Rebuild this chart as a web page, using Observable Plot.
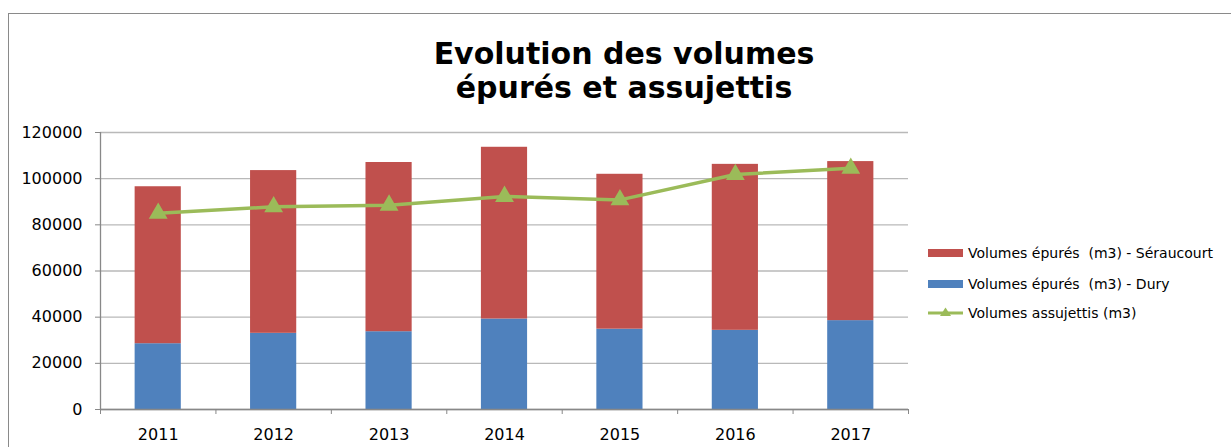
<!DOCTYPE html>
<html>
<head>
<meta charset="utf-8">
<script src="https://cdn.jsdelivr.net/npm/d3@7"></script>
<script src="https://cdn.jsdelivr.net/npm/@observablehq/plot@0.6"></script>
<style>
html, body { margin: 0; padding: 0; background: #fff; overflow: hidden; }
#wrap { position: relative; width: 1231px; height: 447px; font-family: "DejaVu Sans", sans-serif; color: #000; }
#frame { position: absolute; left: 8px; top: 13px; width: 1400px; height: 700px; border-left: 1.5px solid #8a8a8a; border-top: 1.5px solid #8a8a8a; }
#chart { position: absolute; left: 0; top: 0; }
#title { position: absolute; left: 324px; width: 600px; top: 37px; text-align: center; font-weight: bold; font-size: 30px; line-height: 34px; }
.leg { position: absolute; left: 928px; height: 20px; display: flex; align-items: center; font-size: 14px; white-space: pre; }
.sw { width: 35px; height: 8px; margin-right: 5px; }
</style>
</head>
<body>
<div id="wrap">
  <div id="frame"></div>
  <div id="chart"></div>
  <div id="title">Evolution des volumes<br>épurés et assujettis</div>
  <div id="legend"></div>
</div>
<script>
const years = ["2011", "2012", "2013", "2014", "2015", "2016", "2017"];
const dury = [28500, 33000, 33700, 39200, 34800, 34300, 38500];
const seraucourt = [68000, 70500, 73300, 74400, 67100, 71900, 68900];
const assujettis = [85000, 87800, 88500, 92300, 90800, 101800, 104500];
const yTicks = [0, 20000, 40000, 60000, 80000, 100000, 120000];

const seriesNames = ["Volumes épurés  (m3) - Séraucourt", "Volumes épurés  (m3) - Dury", "Volumes assujettis (m3)"];
const colors = {red: "#C0504D", blue: "#4F81BD", green: "#9BBB59"};

// stacked rectangles (Dury bottom, Séraucourt on top)
const rects = [];
years.forEach((y, i) => {
  rects.push({i, serie: "Dury", y1: 0, y2: dury[i]});
  rects.push({i, serie: "Seraucourt", y1: dury[i], y2: dury[i] + seraucourt[i]});
});
const lineData = years.map((y, i) => ({i, v: assujettis[i]}));

const plot = Plot.plot({
  width: 1231,
  height: 447,
  marginTop: 132,
  marginBottom: 38,
  marginLeft: 100,
  marginRight: 323,
  style: {fontFamily: "DejaVu Sans, sans-serif", fontSize: "16px", color: "#000", background: "transparent"},
  x: {type: "linear", domain: [0, years.length], axis: null},
  y: {domain: [0, 120000], axis: null},
  color: {domain: ["Dury", "Seraucourt"], range: [colors.blue, colors.red]},
  marks: [
    Plot.gridY({ticks: yTicks, stroke: "#b9b9b9", strokeOpacity: 1, strokeWidth: 1.3}),
    Plot.rect(rects, {x1: d => d.i + 0.3, x2: d => d.i + 0.7, y1: "y1", y2: "y2", fill: "serie"}),
    Plot.ruleX([0], {y1: 0, y2: 120000, stroke: "#888", strokeWidth: 1.3}),
    Plot.ruleY([0], {stroke: "#888", strokeWidth: 1.3}),
    Plot.axisY({ticks: yTicks, tickSize: 5, tickPadding: 13, tickFormat: d => String(d), stroke: "#888", fill: "#000", fontSize: 16, label: null}),
    Plot.axisX({ticks: d3.range(years.length + 1), tickSize: 5, tickFormat: () => "", stroke: "#888", label: null}),
    Plot.axisX({ticks: d3.range(years.length).map(i => i + 0.5), tickSize: 0, tickPadding: 19, tickFormat: v => years[Math.floor(v)], fill: "#000", fontSize: 16, label: null}),
    Plot.lineY(lineData, {x: d => d.i + 0.5, y: "v", stroke: colors.green, strokeWidth: 3.5}),
    Plot.dot(lineData, {x: d => d.i + 0.5, y: "v", symbol: "triangle", r: 7, fill: colors.green, stroke: "none"})
  ]
});
document.getElementById("chart").appendChild(plot);

// legend
const legend = document.getElementById("legend");
const legItems = [
  {name: seriesNames[0], color: colors.red, type: "rect", cy: 252.5},
  {name: seriesNames[1], color: colors.blue, type: "rect", cy: 284},
  {name: seriesNames[2], color: colors.green, type: "line", cy: 313}
];
legItems.forEach(it => {
  const d = document.createElement("div");
  d.className = "leg";
  d.style.top = (it.cy - 10) + "px";
  let sw;
  if (it.type === "rect") {
    sw = `<div class="sw" style="background:${it.color}"></div>`;
  } else {
    sw = `<svg width="35" height="14" style="margin-right:5px"><line x1="0" y1="7" x2="35" y2="7" stroke="${it.color}" stroke-width="3"/><path d="M17.5,1.5 L23,10 L12,10 Z" fill="${it.color}"/></svg>`;
  }
  d.innerHTML = sw + `<span>${it.name}</span>`;
  legend.appendChild(d);
});
</script>
</body>
</html>
